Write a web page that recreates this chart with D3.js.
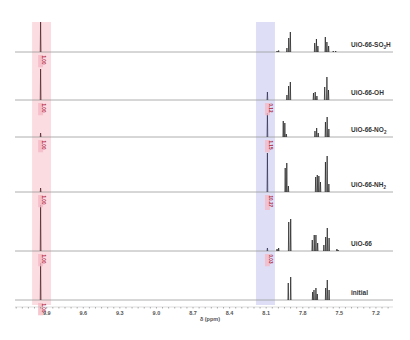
<!DOCTYPE html>
<html><head><meta charset="utf-8">
<script src="https://cdn.jsdelivr.net/npm/d3@7"></script>
<style>body{margin:0;background:#fff}svg{display:block}</style>
</head><body>
<svg id="c" width="410" height="340"></svg>
<script>
// ---- data ----
const samples = ["initial", "UiO-66", "UiO-66-NH2", "UiO-66-NO2", "UiO-66-OH", "UiO-66-SO3H"];
const stackOffset = [0, 49, 108, 163, 200, 248];
const formateShift = 9.95;
const formateHeight = [37, 46, 4, 4, 31, 30];
const formateIntegral = ["1.00", "1.00", "1.00", "1.00", "1.00", "1.00"];
const modShift = 8.09;
const modHeight = [0, 3, 39, 24, 8, 0];
const modIntegral = ["", "0.03", "10.27", "1.15", "0.12", ""];
const aromatic = [
  [[7.919,17],[7.899,23],[7.719,8],[7.708,10],[7.692,12],[7.681,6],[7.612,12],[7.599,20],[7.584,10]],
  [[8.011,2],[7.998,3],[7.915,29],[7.899,32],[7.722,11],[7.706,16],[7.692,16],[7.678,8],[7.627,6],[7.612,14],[7.599,23],[7.584,13],[7.52,2],[7.51,1]],
  [[7.944,24],[7.931,29],[7.918,6],[7.694,15],[7.681,17],[7.668,16],[7.655,10],[7.614,30],[7.600,36],[7.586,8]],
  [[7.960,16],[7.947,14],[7.935,3],[7.700,6],[7.686,9],[7.673,4],[7.614,15],[7.600,20],[7.586,8]],
  [[7.930,5],[7.916,14],[7.902,18],[7.712,7],[7.698,8],[7.684,4],[7.620,13],[7.602,23],[7.589,10]],
  [[8.011,1],[7.998,1.5],[7.930,4],[7.915,14],[7.902,20],[7.702,9],[7.688,13],[7.676,6],[7.615,15],[7.602,10],[7.588,6],[7.55,1],[7.53,1]]
];
const tickValues = [9.9, 9.6, 9.3, 9.0, 8.7, 8.4, 8.1, 7.8, 7.5, 7.2];
const pinkBand = [10.02, 9.865];
const blueBand = [8.184, 8.028];
const xTitle = "δ (ppm)";

// ---- drawing ----
const svg = d3.select("#c");
const x = d3.scaleLinear().domain([10.16, 7.06]).range([15, 393]);
const y = d3.scaleLinear().domain([0, 280]).range([300, 20]);

svg.append("rect").attr("x", x(pinkBand[0])).attr("width", x(pinkBand[1]) - x(pinkBand[0]))
  .attr("y", 22).attr("height", 283).attr("fill", "#fbdde1");
svg.append("rect").attr("x", x(blueBand[0])).attr("width", x(blueBand[1]) - x(blueBand[0]))
  .attr("y", 22).attr("height", 283).attr("fill", "#dedff7");

const w = 0.003;
const labelSub = {"UiO-66-NH2": ["UiO-66-NH", "2", ""], "UiO-66-NO2": ["UiO-66-NO", "2", ""], "UiO-66-SO3H": ["UiO-66-SO", "3", "H"]};

samples.forEach((name, i) => {
  const off = stackOffset[i];
  const g = svg.append("g");
  g.append("line").attr("x1", x.range()[0]).attr("x2", x.range()[1])
    .attr("y1", y(off)).attr("y2", y(off)).attr("stroke", "#9a9a9a").attr("stroke-width", 0.8);
  const peaks = [[formateShift, formateHeight[i]], [modShift, modHeight[i]]].concat(aromatic[i]).filter(p => p[1] > 0);
  peaks.forEach(p => {
    const pts = [[p[0] + w, 0], [p[0], p[1]], [p[0] - w, 0]];
    g.append("path").attr("d", d3.line().x(d => x(d[0])).y(d => y(off + d[1]))(pts))
      .attr("fill", "none").attr("stroke", p[0] > 9 ? "#4a1a22" : (p[0] > 8.02 ? "#2a2a48" : "#1a1a1a"))
      .attr("stroke-width", 0.7);
  });
  const ints = [[formateShift, formateIntegral[i]], [modShift, modIntegral[i]]];
  ints.forEach(([s, t]) => {
    if (!t) return;
    const cx = x(s), cy = y(off) + 3;
    const len = t.length * 2.7;
    g.append("rect").attr("x", cx - 2.5).attr("y", cy).attr("width", 5).attr("height", len + 1.5)
      .attr("fill", "#f4b9c6").attr("opacity", 0.8);
    g.append("text").attr("transform", `translate(${cx + 1.8},${cy + 0.5}) rotate(90)`)
      .attr("font-family", "Liberation Sans, Arial, sans-serif").attr("font-size", 4.6)
      .attr("font-weight", "bold").attr("fill", "#b0243c").text(t);
  });
  const tx = g.append("text").attr("x", 351).attr("y", y(off) - 5)
    .attr("font-family", "Liberation Sans, Arial, sans-serif").attr("font-size", 6.5)
    .attr("font-weight", "bold").attr("fill", "#333");
  if (labelSub[name]) {
    const [a, b, c] = labelSub[name];
    tx.append("tspan").text(a);
    tx.append("tspan").attr("font-size", 4.5).attr("dy", 1.5).text(b);
    tx.append("tspan").attr("dy", -1.5).text(c);
  } else tx.text(name);
});

const axisG = svg.append("g").attr("transform", "translate(0,307)");
const minor = d3.range(7.1, 10.16, 0.05).map(v => +v.toFixed(2));
axisG.append("line").attr("x1", 15).attr("x2", 393).attr("stroke", "#bbb").attr("stroke-width", 0.5);
axisG.selectAll(".mt").data(minor).join("line").attr("x1", d => x(d)).attr("x2", d => x(d))
  .attr("y1", 0).attr("y2", 1.5).attr("stroke", "#777").attr("stroke-width", 0.6);
axisG.selectAll(".lbl").data(tickValues).join("text").attr("x", d => x(d)).attr("y", 7.5)
  .attr("text-anchor", "middle").attr("font-family", "Liberation Sans, Arial, sans-serif")
  .attr("font-size", 5.5).attr("font-weight", "bold").attr("fill", "#555")
  .text(d => d.toFixed(1));
svg.append("text").attr("x", 210).attr("y", 321).attr("text-anchor", "middle")
  .attr("font-family", "Liberation Sans, Arial, sans-serif").attr("font-size", 5.5)
  .attr("font-weight", "bold").attr("fill", "#555").text(xTitle);
</script>
</body></html>
